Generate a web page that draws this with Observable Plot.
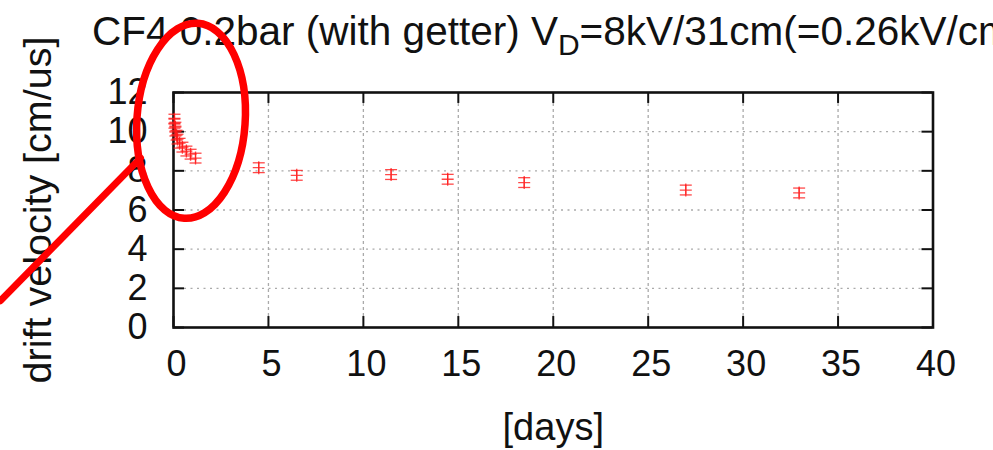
<!DOCTYPE html>
<html>
<head>
<meta charset="utf-8">
<script src="https://cdn.jsdelivr.net/npm/d3@7"></script>
<script src="https://cdn.jsdelivr.net/npm/@observablehq/plot@0.6"></script>
<style>
  html, body { margin: 0; padding: 0; background: #fff; width: 993px; height: 450px; overflow: hidden; }
  #wrap { position: relative; width: 993px; height: 450px; overflow: hidden; }
  #title { position: absolute; left: 92px; top: 8px; white-space: nowrap; font-family: "Liberation Sans", Arial, sans-serif; font-size: 40.5px; color: #111; z-index: 0; }
  #title sub { font-size: 30px; vertical-align: -0.32em; line-height: 0; }
  #chart { position: absolute; left: 0; top: 0; z-index: 1; }
</style>
</head>
<body>
<div id="wrap">
  <div id="title">CF4 0.2bar (with getter) V<sub>D</sub>=8kV/31cm(=0.26kV/cm)</div>
  <div id="chart"></div>
</div>
<script>
// ---- data ----
const days     = [0.05, 0.05, 0.10, 0.10, 0.16, 0.21, 0.32, 0.47, 0.68, 0.90, 1.16, 4.49, 6.49, 11.46, 14.44, 18.47, 26.98, 32.95];
const velocity = [10.64, 10.43, 10.23, 10.03, 9.82, 9.62, 9.41, 9.21, 9.01, 8.85, 8.65, 8.16, 7.77, 7.81, 7.57, 7.40, 7.02, 6.87];
const velErr   = [0.25, 0.25, 0.25, 0.25, 0.25, 0.25, 0.25, 0.25, 0.25, 0.25, 0.25, 0.25, 0.25, 0.25, 0.25, 0.25, 0.25, 0.25];
const xTicks = [0, 5, 10, 15, 20, 25, 30, 35, 40];
const yTicks = [0, 2, 4, 6, 8, 10, 12];
const xGrid = [5, 10, 15, 20, 25, 30, 35];
const yGrid = [2, 4, 6, 8, 10];
const xLabel = "[days]";
const yLabel = "drift velocity [cm/us]";
// red hand-drawn annotation (data units): ellipse centre/radii and pointer line
const annEllipse = [{cx: 0.95, cy: 10.53, rx: 2.85, ry: 4.99, angle: 4}];
const annLineX = [-9.11, -1.74];
const annLineY = [1.37, 8.65];

const points = days.map((d, i) => ({x: d, y: velocity[i], lo: velocity[i] - velErr[i], hi: velocity[i] + velErr[i]}));
const pointer = annLineX.map((x, i) => ({x, y: annLineY[i]}));

const plusSym = {draw(ctx) { ctx.moveTo(-6, 0); ctx.lineTo(6, 0); ctx.moveTo(0, -6.5); ctx.lineTo(0, 6.5); }};
const capSym = {draw(ctx) { ctx.moveTo(-6, 0); ctx.lineTo(6, 0); }};
const ptColor = "#ff1a1a";
const tickLenX = 0.58, tickLenY = 0.56;

const plot = Plot.plot({
  width: 993,
  height: 450,
  marginLeft: 173,
  marginRight: 60.5,
  marginTop: 92,
  marginBottom: 123,
  style: {fontFamily: "'Liberation Sans', Arial, sans-serif", background: "transparent", overflow: "visible", color: "#111"},
  x: {domain: [0, 40], ticks: xTicks, label: null},
  y: {domain: [0, 12], ticks: yTicks, label: null},
  marks: [
    Plot.ruleY(yGrid, {x1: tickLenX, x2: 40 - tickLenX, stroke: "#aaa", strokeWidth: 1.3, strokeDasharray: "2,4.5"}),
    Plot.ruleX(xGrid, {y1: tickLenY, y2: 12 - tickLenY, stroke: "#aaa", strokeWidth: 1.3, strokeDasharray: "3,3"}),
    Plot.ruleX(xTicks, {y1: 0, y2: tickLenY, stroke: "#111", strokeWidth: 2}),
    Plot.ruleX(xTicks, {y1: 12 - tickLenY, y2: 12, stroke: "#111", strokeWidth: 2}),
    Plot.ruleY(yTicks, {x1: 0, x2: tickLenX, stroke: "#111", strokeWidth: 2}),
    Plot.ruleY(yTicks, {x1: 40 - tickLenX, x2: 40, stroke: "#111", strokeWidth: 2}),
    Plot.frame({stroke: "#111", strokeWidth: 2.6}),
    Plot.axisX(xTicks, {tickSize: 0, tickPadding: 23, fontSize: 36, dx: 3, label: null, tickFormat: d => String(d)}),
    Plot.axisY(yTicks, {tickSize: 0, tickPadding: 26, fontSize: 36, label: null, tickFormat: d => String(d)}),
    Plot.text([xLabel], {frameAnchor: "bottom", dy: 112, fontSize: 38, text: d => d}),
    Plot.text([yLabel], {frameAnchor: "left", dx: -135, dy: 0, rotate: -90, textAnchor: "middle", fontSize: 39.5, text: d => d}),
    Plot.ruleX(points, {x: "x", y1: "lo", y2: "hi", stroke: ptColor, strokeWidth: 1.3, strokeOpacity: 0.8}),
    Plot.dot(points, {x: "x", y: "lo", symbol: capSym, fill: "none", stroke: ptColor, strokeWidth: 1.3, strokeOpacity: 0.8}),
    Plot.dot(points, {x: "x", y: "hi", symbol: capSym, fill: "none", stroke: ptColor, strokeWidth: 1.3, strokeOpacity: 0.8}),
    Plot.dot(points, {x: "x", y: "y", symbol: plusSym, fill: "none", stroke: ptColor, strokeWidth: 1.3, strokeOpacity: 0.8}),
    Plot.line(pointer, {x: "x", y: "y", stroke: "#ff0000", strokeWidth: 7, clip: false})
  ]
});

// annotation ellipse, positioned through the plot's own scales
const sx = plot.scale("x"), sy = plot.scale("y");
const svgNS = "http://www.w3.org/2000/svg";
for (const e of annEllipse) {
  const cx = sx.apply(e.cx), cy = sy.apply(e.cy);
  const rx = sx.apply(e.cx + e.rx) - cx;
  const ry = sy.apply(e.cy - e.ry) - cy;
  const el = document.createElementNS(svgNS, "ellipse");
  el.setAttribute("cx", cx); el.setAttribute("cy", cy);
  el.setAttribute("rx", rx); el.setAttribute("ry", ry);
  el.setAttribute("transform", `rotate(${e.angle} ${cx} ${cy})`);
  el.setAttribute("fill", "none"); el.setAttribute("stroke", "#ff0000"); el.setAttribute("stroke-width", 7.5);
  plot.appendChild(el);
}
document.getElementById("chart").appendChild(plot);
</script>
</body>
</html>
